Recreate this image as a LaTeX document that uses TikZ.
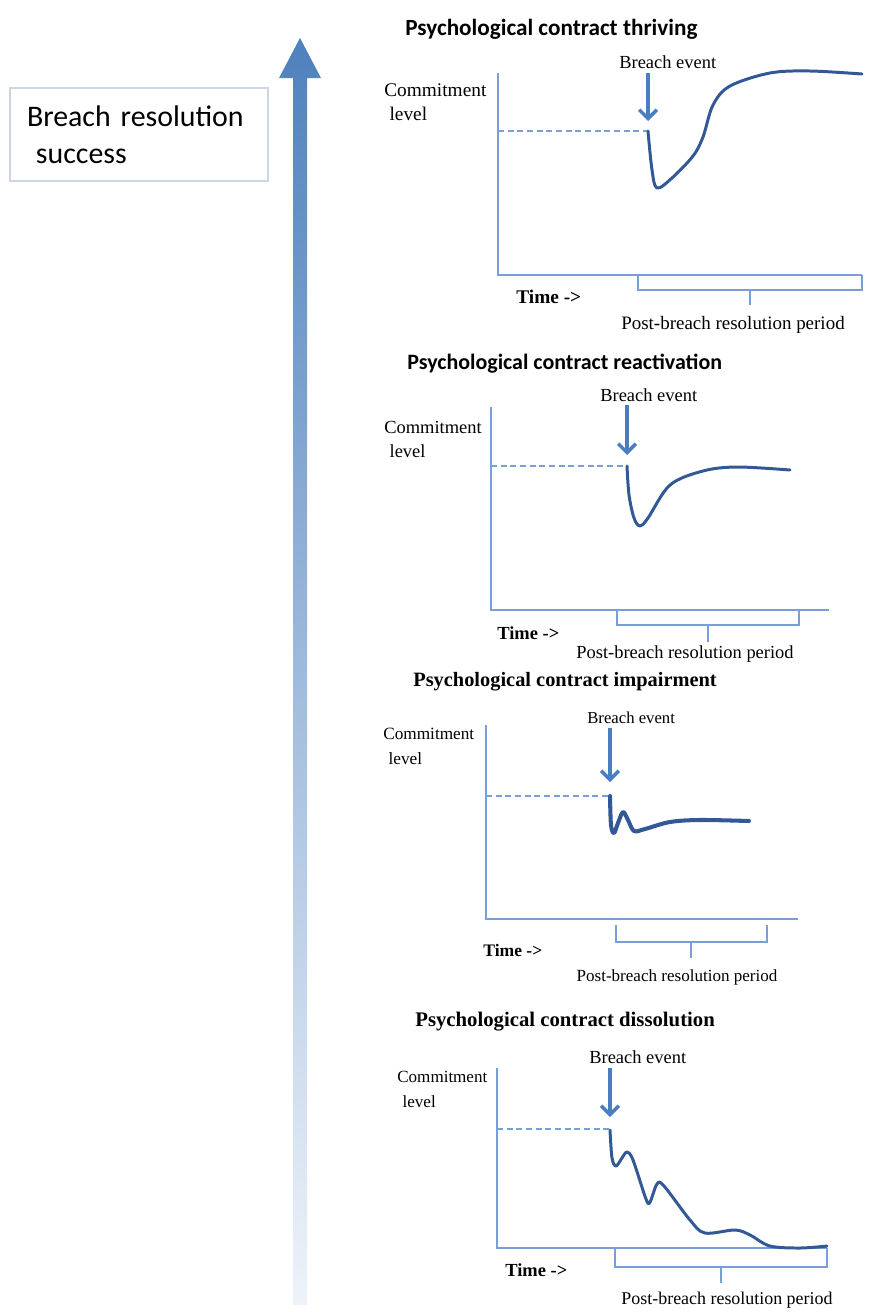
\documentclass[tikz,border=0pt]{standalone}
\usepackage{fontspec}
\setmainfont{Liberation Serif}
\newfontfamily\carlito{Carlito}
\usetikzlibrary{arrows.meta}
\definecolor{axisblue}{RGB}{120,160,215}
\definecolor{breachblue}{RGB}{74,126,195}
\definecolor{curveblue}{RGB}{50,88,150}
\definecolor{topblue}{RGB}{79,129,189}
\definecolor{paleblue}{RGB}{238,243,250}
\definecolor{boxgrey}{RGB}{205,214,228}
\newcommand\fs[1]{\fontsize{#1}{14}\selectfont}
\begin{document}
\begin{tikzpicture}[x=0.02cm,y=-0.02cm,
  axisline/.style={axisblue,line width=0.8pt},
  dashline/.style={axisblue,line width=0.8pt,dash pattern=on 3.5pt off 2pt},
  breach/.style={breachblue,line width=2pt,-{Straight Barb[length=5pt,width=10pt]}},
  respcurve/.style={curveblue,line width=1.7pt,line join=round,line cap=round},
  paneltitle/.style={anchor=west,inner sep=0pt},
  lbl/.style={anchor=west,inner sep=0pt,align=left},
  timelbl/.style={anchor=west,inner sep=0pt},
  period/.style={inner sep=0pt},
  resbox/.style={draw=boxgrey,line width=0.6pt,font=\carlito\fontsize{17}{21}\selectfont,
    align=left,text width=4.48cm,inner xsep=0.34cm,minimum height=1.86cm}]
\useasboundingbox (0,0) rectangle (875,1312);

% success axis
\shade[top color=topblue,bottom color=paleblue] (293,1305) -- (293,78) -- (279,78) -- (300,38)
  -- (321,78) -- (307,78) -- (307,1305) -- cycle;
\node[resbox] (success) at (139,134.5) {Breach resolution\\\hspace{0.3em}success};

% thriving
\node[paneltitle,font=\carlito\bfseries\fs{13.2}] (t1) at (405,29) {Psychological contract thriving};
\coordinate (o1) at (498,275);
\coordinate (y1) at (498,73);
\coordinate (x1) at (862,275);
\draw[axisline] (y1) -- (o1) -- (x1);
\node[lbl,font=\fs{11}] (c1) at (384,102) {Commitment\\\hspace{3pt}level};
\node[lbl,font=\fs{10.5}] (b1) at (619,62) {Breach event};
\coordinate (a1) at (648,73);
\coordinate (h1) at (648,121);
\draw[breach] (a1) -- (h1);
\coordinate (d1) at (498,131);
\coordinate (p1) at (648,131);
\draw[dashline] (d1) -- (p1);
\draw[respcurve] plot[smooth,tension=0.55] coordinates {(648,131) (652,170) (657,188) (672,178)
  (693,156) (703,137) (713,105) (730,86) (770,73) (810,71) (862,74)};
\coordinate (s1) at (638,275);
\draw[axisline] (s1) -- ++(0,15) -| (x1);
\coordinate (m1) at (750,290);
\draw[axisline] (m1) -- ++(0,15);
\node[timelbl,font=\bfseries\fs{11}] (tm1) at (516,297) {Time ->};
\node[period,font=\fs{10.8}] (pp1) at (733,325) {Post-breach resolution period};

% reactivation
\node[paneltitle,font=\carlito\bfseries\fs{12.5}] (t2) at (407,364) {Psychological contract reactivation};
\coordinate (o2) at (491,610);
\coordinate (y2) at (491,407);
\coordinate (x2) at (829,610);
\draw[axisline] (y2) -- (o2) -- (x2);
\node[lbl,font=\fs{10.5}] (c2) at (384,439.5) {Commitment\\\hspace{3pt}level};
\node[lbl,font=\fs{10.5}] (b2) at (600,395) {Breach event};
\coordinate (a2) at (627,405);
\coordinate (h2) at (627,455);
\draw[breach] (a2) -- (h2);
\coordinate (d2) at (491,466);
\coordinate (p2) at (627,466);
\draw[dashline] (d2) -- (p2);
\draw[respcurve] plot[smooth,tension=0.55] coordinates {(627,466) (629,495) (634,518) (640,526)
  (648,518) (670,485) (703,471) (737,467) (790,470)};
\coordinate (s2) at (617,610);
\coordinate (e2) at (799,610);
\draw[axisline] (s2) -- ++(0,15) -| (e2);
\coordinate (m2) at (708,625);
\draw[axisline] (m2) -- ++(0,17);
\node[timelbl,font=\bfseries\fs{10.5}] (tm2) at (497,633) {Time ->};
\node[period,font=\fs{10.5}] (pp2) at (685,654) {Post-breach resolution period};

% impairment
\node[paneltitle,font=\bfseries\fs{11.6}] (t3) at (413,682) {Psychological contract impairment};
\coordinate (o3) at (486,919);
\coordinate (y3) at (486,725);
\coordinate (x3) at (798,919);
\draw[axisline] (y3) -- (o3) -- (x3);
\node[lbl,font=\fs{9.8}] (c3) at (383,746.5) {Commitment\\\hspace{3pt}level};
\node[lbl,font=\fs{9.5}] (b3) at (587,718) {Breach event};
\coordinate (a3) at (610,728);
\coordinate (h3) at (610,782);
\draw[breach] (a3) -- (h3);
\coordinate (d3) at (486,796);
\coordinate (p3) at (610,796);
\draw[dashline] (d3) -- (p3);
\draw[respcurve,line width=2.3pt] plot[smooth,tension=0.55] coordinates {(610,796) (611,825)
  (614,833) (618,823) (623,812) (628,820) (634,831) (645,829) (670,822) (700,820) (749,821)};
\coordinate (s3) at (616,925);
\coordinate (e3) at (767,925);
\draw[axisline] (s3) -- ++(0,17) -| (e3);
\coordinate (m3) at (691,942);
\draw[axisline] (m3) -- ++(0,16);
\node[timelbl,font=\bfseries\fs{10}] (tm3) at (483,950) {Time ->};
\node[period,font=\fs{9.7}] (pp3) at (677,977) {Post-breach resolution period};

% dissolution
\node[paneltitle,font=\bfseries\fs{11.8}] (t4) at (415,1022) {Psychological contract dissolution};
\coordinate (o4) at (497,1248);
\coordinate (y4) at (497,1068);
\coordinate (x4) at (827,1248);
\draw[axisline] (y4) -- (o4) -- (x4);
\node[lbl,font=\fs{9.7}] (c4) at (397,1089.5) {Commitment\\\hspace{3pt}level};
\node[lbl,font=\fs{10.5}] (b4) at (589,1057) {Breach event};
\coordinate (a4) at (610,1068);
\coordinate (h4) at (610,1117);
\draw[breach] (a4) -- (h4);
\coordinate (d4) at (497,1129);
\coordinate (p4) at (610,1129);
\draw[dashline] (d4) -- (p4);
\draw[respcurve] plot[smooth,tension=0.55] coordinates {(610,1130) (612,1158) (616,1166)
  (622,1158) (627,1152) (633,1160) (646,1199) (650,1202) (657,1184) (664,1186) (690,1220)
  (705,1233) (735,1230) (750,1235) (770,1246) (800,1248) (827,1246)};
\coordinate (s4) at (615,1248);
\draw[axisline] (s4) -- ++(0,19) -| (x4);
\coordinate (m4) at (721,1267);
\draw[axisline] (m4) -- ++(0,16);
\node[timelbl,font=\bfseries\fs{10.5}] (tm4) at (505,1270) {Time ->};
\node[period,font=\fs{10.2}] (pp4) at (727,1300) {Post-breach resolution period};
\end{tikzpicture}
\end{document}
